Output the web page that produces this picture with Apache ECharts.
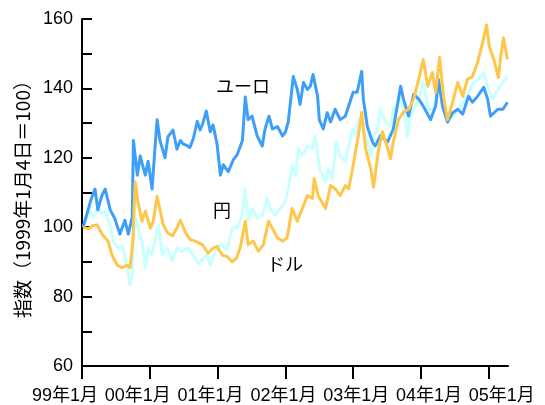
<!DOCTYPE html>
<html>
<head>
<meta charset="utf-8">
<script src="https://cdn.jsdelivr.net/npm/echarts@6/dist/echarts.min.js"></script>
<style>
  html, body { margin: 0; padding: 0; background: #fff; }
  #chart { width: 545px; height: 405px; }
</style>
</head>
<body>
<div id="chart"></div>
<script>
// x values: months elapsed since January 1999; y values: index (1999-01-04 = 100)
const yearTicks = [0, 12, 24, 36, 48, 60, 72];
const yearTickLabels = ['99年1月', '00年1月', '01年1月', '02年1月', '03年1月', '04年1月', '05年1月'];

const euroData = [
  [0.2,100],[0.9,104],[1.6,108],[2.3,111],[2.8,105],[3.5,109],[4.1,111],[5.0,105],[5.8,102.5],[6.7,98],
  [7.6,102],[8.2,98],[8.9,103],[9.1,125],[9.8,115],[10.3,120.5],[11.2,115],[11.7,119],[12.4,111],[12.9,122.5],
  [13.3,131],[13.8,125],[14.7,120],[15.2,126],[16.1,128],[16.8,122.5],[17.4,125],[17.9,124],[18.6,123.5],[19.1,123],
  [19.7,125.5],[20.4,130.5],[20.9,128],[21.4,130],[22.0,133.5],[22.7,127.5],[23.2,129.5],[23.9,124],[24.5,115],[25.0,118],
  [25.9,116],[26.8,119.5],[27.5,121],[28.4,125],[28.9,137.5],[29.4,131],[30.1,132],[31.0,126.3],[31.9,123.4],[32.4,128.3],
  [33.1,132],[33.7,128.3],[34.6,129],[35.5,126.3],[36.0,127.4],[36.5,130.3],[37.4,143.4],[38.1,139.7],[38.6,135.4],[39.2,141.7],
  [39.9,139.7],[40.4,140.6],[40.9,144],[41.7,137.7],[42.0,131],[42.7,128.3],[43.4,133],[44.0,130.3],[44.8,134],[45.7,131],
  [46.6,132],[47.2,134.9],[48.0,138.9],[48.7,138.9],[49.5,144.9],[49.8,136.9],[50.5,129],[51.4,124.6],[51.9,123.4],[52.8,126.3],
  [54.1,124.6],[55.1,128.3],[56.4,140.6],[56.9,136.9],[57.8,132],[58.7,138.3],[59.6,136.9],[60.4,134.9],[61.7,131],[62.6,134.9],
  [63.1,142.6],[63.8,134.9],[64.7,130.3],[65.6,133],[66.5,134],[67.4,132.6],[68.4,137.7],[69.1,136],[70.0,137.7],[71.1,140.3],
  [71.8,136.9],[72.3,132],[73.6,134],[74.5,134],[75.3,136]
];

const yenData = [
  [0.2,100],[0.9,103],[1.4,104.6],[2.1,103],[2.8,105.4],[3.5,104],[4.1,104.6],[5.0,100.6],[5.5,96],[6.4,94],
  [7.1,95],[8.0,88.3],[8.5,83.4],[8.9,86.3],[9.1,96],[9.4,103.4],[9.9,99.7],[10.6,96],[11.2,88.3],[11.7,94],
  [12.4,92],[12.9,96],[13.5,100.6],[14.2,92],[15.1,94],[16.0,90.3],[16.8,94],[17.7,93],[18.6,94],[19.7,92],
  [20.6,89.5],[21.4,91],[22.2,92],[22.7,89],[23.6,93],[24.5,95],[25.7,93.5],[26.6,99.7],[27.5,100],[28.4,103.4],
  [28.8,111],[29.4,102],[30.1,105.4],[31.0,102.6],[31.9,103.4],[32.8,108.3],[33.3,105.4],[34.2,103.4],[35.1,105.4],[36.0,107.4],
  [36.5,111.1],[37.2,117.7],[37.8,114.9],[38.3,122.6],[39.0,120.6],[39.9,123.4],[40.8,122.6],[41.3,126.3],[41.7,120.6],[42.2,116],
  [43.1,113.1],[43.6,116.9],[44.3,114],[45.0,124.6],[45.7,120.6],[46.6,118.9],[47.2,123.4],[47.9,128.3],[48.4,126.3],[48.9,131],
  [49.6,128.3],[50.5,124.6],[51.1,120.6],[51.6,126.3],[52.3,128.3],[52.8,134],[53.7,130.3],[54.6,129],[55.1,134],[56.4,136.9],
  [56.9,134],[57.6,126.3],[58.1,132],[59.0,134.9],[59.9,138.9],[60.4,141.7],[61.3,134],[62.2,134],[63.1,140.6],[63.8,136],
  [64.7,130.3],[65.6,132],[66.5,134],[67.5,136],[68.4,138.9],[69.3,141.7],[70.2,142.6],[71.1,144.6],[71.8,140.6],[72.7,136.9],
  [73.6,139.7],[74.5,141.7],[75.3,143.4]
];

const dollarData = [
  [0.2,100],[1.1,99.5],[1.9,100.5],[2.7,100.6],[3.2,99],[3.7,97.7],[4.6,96],[5.3,92],[6.2,89.1],[7.1,88.3],
  [8.0,89.1],[8.5,88.3],[9.0,96],[9.4,113],[9.9,107.4],[10.6,101.7],[11.2,104.6],[12.1,99.7],[12.6,101.7],[13.3,108.9],
  [13.8,105],[14.4,100.6],[15.1,98.5],[16.0,97.5],[16.8,99.7],[17.4,102],[18.3,98.5],[19.1,96.5],[20.0,96],[21.3,95],
  [22.3,92.5],[23.2,94],[23.9,94.5],[24.8,92],[25.7,91.5],[26.6,90],[27.3,91],[28.0,94],[28.9,101.7],[29.4,95],
  [30.3,96],[31.2,93.1],[32.1,94.9],[33.0,101.7],[33.7,99.7],[34.6,96.9],[35.5,96],[36.3,96.9],[37.2,105.4],[38.1,101.7],
  [39.0,105.4],[39.9,109.1],[40.8,108.3],[41.1,114],[41.8,109.1],[43.1,105.4],[44.0,112],[44.8,111.1],[45.7,109.1],[46.6,112],
  [47.2,111.1],[47.9,116.9],[48.4,121.7],[48.9,126.3],[49.5,133.1],[50.2,122.6],[51.1,116.9],[51.6,111.5],[52.5,122.6],[53.2,127.5],
  [54.1,122.6],[54.6,119.7],[55.1,124.6],[56.0,131],[56.9,133.1],[57.8,134],[58.7,136.9],[59.6,142.6],[60.4,148.3],[61.2,140.6],
  [62.0,144.6],[62.6,138.9],[63.3,148.9],[64.0,137.7],[64.7,131],[65.6,136],[66.5,141.7],[67.4,137.7],[68.2,142.6],[69.1,143.4],
  [70.0,147.4],[70.9,153.1],[71.6,158.3],[72.1,152],[72.9,148.3],[73.7,143.1],[74.1,149.1],[74.6,154.6],[75.3,148.3]
];

const seriesNames = ['円', 'ユーロ', 'ドル'];
const seriesColors = ['#c8ffff', '#3f9ff8', '#ffc64c'];

const FONT = '"Liberation Sans", Arial, "Noto Sans CJK JP", sans-serif';
const CJK_FONT = '"Noto Sans CJK JP", "Liberation Sans", sans-serif';

// the year labels are spaced a little wider than the ticks; each one is nudged
// sideways with rich-text padding (shift in px, negative = to the left)
const labelShift = [-17, -12, -7, -2, 3, 8, 13];
const labelRich = {};
labelShift.forEach(function (s, i) {
  labelRich['y' + i] = {
    fontSize: 18,
    fontFamily: FONT,
    color: '#000',
    padding: s < 0 ? [0, -2 * s, 0, 0] : [0, 0, 0, 2 * s]
  };
});

const chart = echarts.init(document.getElementById('chart'), null, { renderer: 'canvas' });

function lineSeries(name, data, color) {
  return {
    name: name,
    type: 'line',
    data: data,
    showSymbol: false,
    symbol: 'none',
    animation: false,
    silent: true,
    lineStyle: { color: color, width: 3, join: 'round' },
    emphasis: { disabled: true }
  };
}

chart.setOption({
  animation: false,
  backgroundColor: '#ffffff',
  textStyle: { fontFamily: FONT },
  grid: { left: 82, right: 37, top: 19, bottom: 36, containLabel: false },
  xAxis: {
    type: 'value',
    min: 0,
    max: 75.4,
    interval: 12,
    splitLine: { show: false },
    axisLine: { show: true, onZero: false, lineStyle: { color: '#000', width: 2 } },
    axisTick: { show: true, inside: false, length: 13, customValues: yearTicks, lineStyle: { color: '#000', width: 2 } },
    axisLabel: {
      show: true,
      customValues: yearTicks,
      margin: 21,
      color: '#000',
      fontSize: 18,
      fontFamily: FONT,
      rich: labelRich,
      formatter: function (v) {
        const i = yearTicks.indexOf(Math.round(v));
        return i >= 0 ? '{y' + i + '|' + yearTickLabels[i] + '}' : '';
      }
    }
  },
  yAxis: {
    type: 'value',
    min: 60,
    max: 160,
    interval: 10,
    name: '指数（1999年1月4日＝100）',
    nameLocation: 'middle',
    nameGap: 44,
    nameTextStyle: { color: '#000', fontSize: 19, fontFamily: CJK_FONT, padding: [0, 4, 0, 0] },
    splitLine: { show: false },
    axisLine: { show: true, lineStyle: { color: '#000', width: 2 } },
    axisTick: { show: true, inside: true, length: 10, lineStyle: { color: '#000', width: 2 } },
    axisLabel: {
      margin: 9,
      color: '#000',
      fontSize: 18,
      fontFamily: FONT,
      formatter: function (v) { return v % 20 === 0 ? String(v) : ''; }
    }
  },
  graphic: [
    { type: 'text', left: 216, top: 79, style: { text: 'ユーロ', fontSize: 18, fontFamily: FONT, fill: '#000' } },
    { type: 'text', left: 213, top: 203, style: { text: '円', fontSize: 18, fontFamily: FONT, fill: '#000' } },
    { type: 'text', left: 267, top: 257, style: { text: 'ドル', fontSize: 18, fontFamily: FONT, fill: '#000' } }
  ],
  series: [
    lineSeries(seriesNames[0], yenData, seriesColors[0]),
    lineSeries(seriesNames[1], euroData, seriesColors[1]),
    lineSeries(seriesNames[2], dollarData, seriesColors[2])
  ]
});
</script>
</body>
</html>
